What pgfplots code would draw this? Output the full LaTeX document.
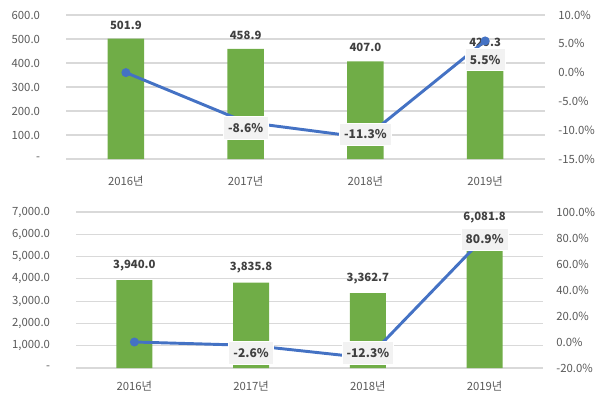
\documentclass[border=0pt]{standalone}
\usepackage{pgfplots}
\pgfplotsset{compat=1.18}
\usepackage{fontspec}
\setmainfont{Noto Sans CJK KR}

\definecolor{bargreen}{HTML}{70AD47}
\definecolor{lineblue}{HTML}{4472C4}
\definecolor{gridgray}{HTML}{D9D9D9}
\definecolor{tickgray}{HTML}{595959}
\definecolor{labeldark}{HTML}{404040}
\definecolor{boxfill}{HTML}{F2F2F2}

\pgfplotsset{
  common/.style={
    scale only axis, xmin=-0.5, xmax=3.5,
    major tick length=0,
    axis line style={draw=none},
    tick label style={font=\fontsize{8.5}{10}\selectfont, text=tickgray},
    /pgf/number format/assume math mode=true,
  },
  leftaxis/.style={common,
    axis y line*=left, axis x line*=bottom,
    xtick={0,1,2,3}, xticklabels={2016년,2017년,2018년,2019년},
    ymajorgrids, grid style={gridgray, line width=0.8pt},
    yticklabel style={xshift=-16pt},
  },
  rightaxis/.style={common,
    axis y line*=right, axis x line=none,
    yticklabel style={xshift=6.5pt},
  },
  barplot/.style={ybar, bar width=27.5pt, fill=bargreen, draw=none,
    nodes near coords, point meta=explicit symbolic,
    every node near coord/.append style={font=\fontsize{8.5}{10}\selectfont\bfseries,
      text=labeldark, anchor=south, yshift=3.5pt}},
  lineplot/.style={lineblue, line width=2.2pt, mark=*,
    mark options={scale=1.1, fill=lineblue, draw=lineblue}},
  linelabels/.style={draw=none, mark=none,
    nodes near coords, point meta=explicit symbolic,
    visualization depends on={\thisrow{dy} \as \dy},
    every node near coord/.append style={font=\fontsize{9}{10}\selectfont\bfseries,
      text=labeldark, anchor=center, fill=boxfill, draw=white, line width=0.6pt,
      inner xsep=3.5pt, inner ysep=5pt, yshift=\dy pt}},
}

\begin{document}
\begin{tikzpicture}
\path (0,0) rectangle (451.5pt,303pt);

% ---- top panel
\begin{axis}[leftaxis, at={(49.5pt,183.75pt)}, anchor=south west,
  width=359.25pt, height=108pt, ymin=0, ymax=600,
  ytick={0,100,...,600},
  yticklabels={-,100.0,200.0,300.0,400.0,500.0,600.0},
  xticklabel style={yshift=-9pt}]
\addplot[barplot] table[meta=lab] {
x y lab
0 501.9 501.9
1 458.9 458.9
2 407.0 407.0
3 429.3 429.3
};
\end{axis}
\begin{axis}[rightaxis, at={(49.5pt,183.75pt)}, anchor=south west,
  width=359.25pt, height=108pt, ymin=-15, ymax=10,
  ytick={-15,-10,...,10},
  yticklabels={-15.0\%,-10.0\%,-5.0\%,0.0\%,5.0\%,10.0\%}]
\addplot[lineplot] coordinates {(0,0) (1,-8.6) (2,-11.3) (3,5.5)};
\addplot[linelabels] table[meta=lab] {
x y lab dy
1 -8.6 -8.6\% -4.5
2 -11.3 -11.3\% 2.5
3 5.5 5.5\% -14
};
\end{axis}

% ---- bottom panel
\begin{axis}[leftaxis, at={(57pt,27pt)}, anchor=south west,
  width=350.25pt, height=117pt, ymin=0, ymax=7000,
  ytick={0,1000,...,7000},
  yticklabels={-,{1,000.0},{2,000.0},{3,000.0},{4,000.0},{5,000.0},{6,000.0},{7,000.0}},
  xticklabel style={yshift=-6pt}]
\addplot[barplot, bar width=27pt] table[meta=lab] {
x y lab
0 3940.0 3,940.0
1 3835.8 3,835.8
2 3362.7 3,362.7
3 6081.8 6,081.8
};
\end{axis}
\begin{axis}[rightaxis, at={(57pt,27pt)}, anchor=south west,
  width=350.25pt, height=117pt, ymin=-20, ymax=100,
  ytick={-20,0,...,100},
  yticklabels={-20.0\%,0.0\%,20.0\%,40.0\%,60.0\%,80.0\%,100.0\%}]
\addplot[lineplot] coordinates {(0,0) (1,-2.6) (2,-12.3) (3,80.9)};
\addplot[linelabels] table[meta=lab] {
x y lab dy
1 -2.6 -2.6\% -5.5
2 -12.3 -12.3\% 4
3 80.9 80.9\% -2
};
\end{axis}
\end{tikzpicture}
\end{document}
